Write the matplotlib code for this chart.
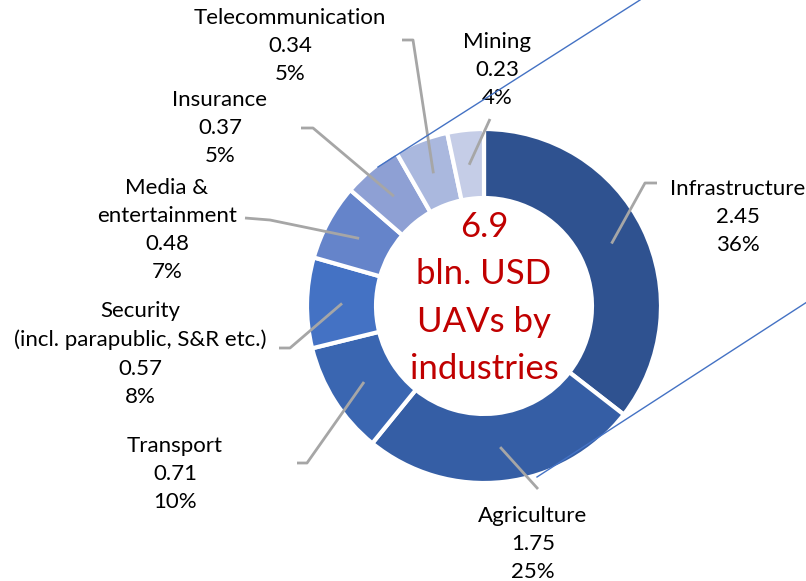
import matplotlib
matplotlib.use("Agg")
import matplotlib.pyplot as plt
import numpy as np
from matplotlib.lines import Line2D

# ---- data ----
industries = ["Infrastructure", "Agriculture", "Transport",
              "Security\n(incl. parapublic, S&R etc.)", "Media &\nentertainment",
              "Insurance", "Telecommunication", "Mining"]
values = [2.45, 1.75, 0.71, 0.57, 0.48, 0.37, 0.34, 0.23]
percents = ["36%", "25%", "10%", "8%", "7%", "5%", "5%", "4%"]
center_lines = ["6.9", "bln. USD", "UAVs by", "industries"]

colors = ["#2F5290", "#355EA5", "#3A66B1", "#4472C4", "#6584CA",
          "#8EA0D4", "#AAB8DE", "#C5CDE7"]

W, H = 806, 581
fig = plt.figure(figsize=(W / 100, H / 100), dpi=100)
ax = fig.add_axes([0, 0, 1, 1])

cx, cy, R = 484, 306, 177
wedges, _ = ax.pie(values, colors=colors, startangle=-90, counterclock=True,
                   radius=R, center=(cx, cy),
                   wedgeprops=dict(width=R * 0.39, edgecolor="white", linewidth=3))
ax.set_xlim(0, W)
ax.set_ylim(H, 0)
ax.set_aspect("equal")
ax.axis("off")

font = "Lato"
# label positions (center of text block) and leader-line elbows
label_pos = [(738, 217), (533, 544), (175, 474), (140, 354), (167, 230),
             (220, 128), (290, 46), (497, 70)]
elbows = [[(645, 183), (657, 183)],
          [(538, 489)],
          [(307, 463), (297, 463)],
          [(290, 348), (279, 348)],
          [(270, 220), (245, 218)],
          [(313, 128), (301, 128)],
          [(413, 40), (402, 40)],
          [(490, 119)]]

total = sum(values)
cum = np.cumsum([0] + values)
for i, (name, v, p) in enumerate(zip(industries, values, percents)):
    mid = (cum[i] + v / 2) / total * 2 * np.pi
    sx = cx + 142 * np.sin(mid)
    sy = cy - 142 * np.cos(mid)
    pts = [(sx, sy)] + elbows[i]
    ax.plot([q[0] for q in pts], [q[1] for q in pts], color="#A6A6A6",
            lw=2, solid_capstyle="butt", zorder=3)
    lx, ly = label_pos[i]
    ax.text(lx, ly, f"{name}\n{v:.2f}\n{p}", ha="center", va="center",
            fontsize=16, family=font, color="#000000", linespacing=1.52)

ax.text(cx, 298, "\n".join(center_lines), ha="center", va="center",
        fontsize=25, family=font, color="#C00000", linespacing=1.58)

# thin blue decorative lines
ax.add_line(Line2D([640, 378], [0, 167], color="#4472C4", lw=1, zorder=4))
ax.add_line(Line2D([807, 537], [302, 477], color="#4472C4", lw=1, zorder=4))

fig.savefig("out.png", dpi=100)
